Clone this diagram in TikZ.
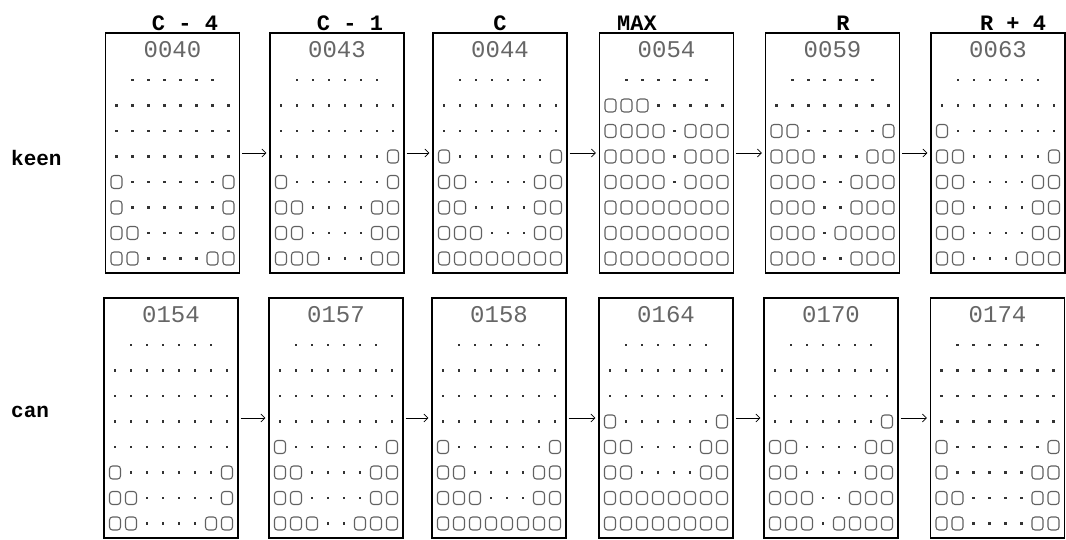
\documentclass[tikz,border=0pt]{standalone}
\usepackage{fontspec}
\newfontfamily\monofont{Liberation Mono}
\usetikzlibrary{arrows.meta}
\newcount\gcol
\makeatletter
\def\chO{O}\def\cho{o}
\def\gr@cell#1{\def\gch{#1}%
  \pgfmathsetmacro\gx{\gr@x+16*\the\gcol}%
  \ifx\gch\chO \draw[cellO] (\gx-5.5,\gr@y-6.5) rectangle (\gx+5.5,\gr@y+6.5);\fi
  \ifx\gch\cho \fill[celldot] (\gx-1.4,\gr@y-1.4) rectangle (\gx+1.4,\gr@y+1.4);\fi
  \advance\gcol by 1 }
\def\gr@loop#1{\ifx#1\relax\else\gr@cell#1\expandafter\gr@loop\fi}
\newcommand\gridrow[3]{\pgfmathsetmacro\gr@x{#1}\pgfmathsetmacro\gr@y{#2}\gcol=0 \expandafter\gr@loop#3\relax}
\makeatother
\newcommand\panel[5]{%
  \node[panelbox] (#1) at (#2,#3+120) {};
  \node[numtxt] (#1n) at (#2,#3+17) {#4};
  \foreach \rw [count=\ri from 0] in {#5} {\gridrow{#2-56}{#3+47+25.5*\ri}{\rw}}%
}
\tikzset{
  panelbox/.style={draw=black, line width=1.4pt, minimum width=134pt, minimum height=240pt, inner sep=0pt},
  numtxt/.style={font=\monofont\fontsize{24}{24}\selectfont, text=black!60, inner sep=0pt},
  titletxt/.style={font=\monofont\bfseries\fontsize{22}{22}\selectfont, inner sep=0pt},
  rowlbl/.style={font=\monofont\bfseries\fontsize{21}{21}\selectfont, inner sep=0pt, anchor=west},
  cellO/.style={draw=black!62, line width=1.1pt, rounded corners=3pt},
  celldot/.style={fill=black!80},
  arr/.style={-{Straight Barb[length=4pt,width=8pt]}, line width=0.7pt, shorten <=2pt, shorten >=3pt},
}
\begin{document}
\begin{tikzpicture}[x=1pt,y=-1pt]
\useasboundingbox (0,0) rectangle (1066,540);
% titles
\node[titletxt] (t1) at (185,23) {C - 4};
\node[titletxt] (t2) at (350,23) {C - 1};
\node[titletxt] (t3) at (500,23) {C};
\node[titletxt] (t4) at (637,23) {MAX};
\node[titletxt] (t5) at (843,23) {R};
\node[titletxt] (t6) at (1013,23) {R + 4};
% row labels
\node[rowlbl] (lk) at (11,158) {keen};
\node[rowlbl] (lc) at (11,412) {can};
% keen row
\panel{k1}{172.5}{33}{0040}{-oooooo-,oooooooo,oooooooo,oooooooo,OooooooO,OooooooO,OOoooooO,OOooooOO}
\panel{k2}{337}{33}{0043}{-oooooo-,oooooooo,oooooooo,oooooooO,OooooooO,OOooooOO,OOooooOO,OOOoooOO}
\panel{k3}{500}{33}{0044}{-oooooo-,oooooooo,oooooooo,OooooooO,OOooooOO,OOooooOO,OOOoooOO,OOOOOOOO}
\panel{k4}{666.5}{33}{0054}{-oooooo-,OOOooooo,OOOOoOOO,OOOOoOOO,OOOOoOOO,OOOOOOOO,OOOOOOOO,OOOOOOOO}
\panel{k5}{832.5}{33}{0059}{-oooooo-,oooooooo,OOoooooO,OOOoooOO,OOOooOOO,OOOooOOO,OOOoOOOO,OOOooOOO}
\panel{k6}{998}{33}{0063}{-oooooo-,oooooooo,Oooooooo,OOoooooO,OOooooOO,OOooooOO,OOooooOO,OOoooOOO}
% can row
\panel{c1}{171}{298}{0154}{-oooooo-,oooooooo,oooooooo,oooooooo,oooooooo,OooooooO,OOoooooO,OOooooOO}
\panel{c2}{336}{298}{0157}{-oooooo-,oooooooo,oooooooo,oooooooo,OooooooO,OOooooOO,OOooooOO,OOOooOOO}
\panel{c3}{499}{298}{0158}{-oooooo-,oooooooo,oooooooo,oooooooo,OooooooO,OOooooOO,OOOoooOO,OOOOOOOO}
\panel{c4}{666}{298}{0164}{-oooooo-,oooooooo,oooooooo,OooooooO,OOooooOO,OOooooOO,OOOOOOOO,OOOOOOOO}
\panel{c5}{831}{298}{0170}{-oooooo-,oooooooo,oooooooo,oooooooO,OOooooOO,OOooooOO,OOOooOOO,OOOoOOOO}
\panel{c6}{997.5}{298}{0174}{-oooooo-,oooooooo,oooooooo,oooooooo,OooooooO,OoooooOO,OOooooOO,OOooooOO}
% arrows
\foreach \a/\b in {k1/k2,k2/k3,k3/k4,k4/k5,k5/k6,c1/c2,c2/c3,c3/c4,c4/c5,c5/c6}
  \draw[arr] (\a) -- (\b);
\end{tikzpicture}
\end{document}
